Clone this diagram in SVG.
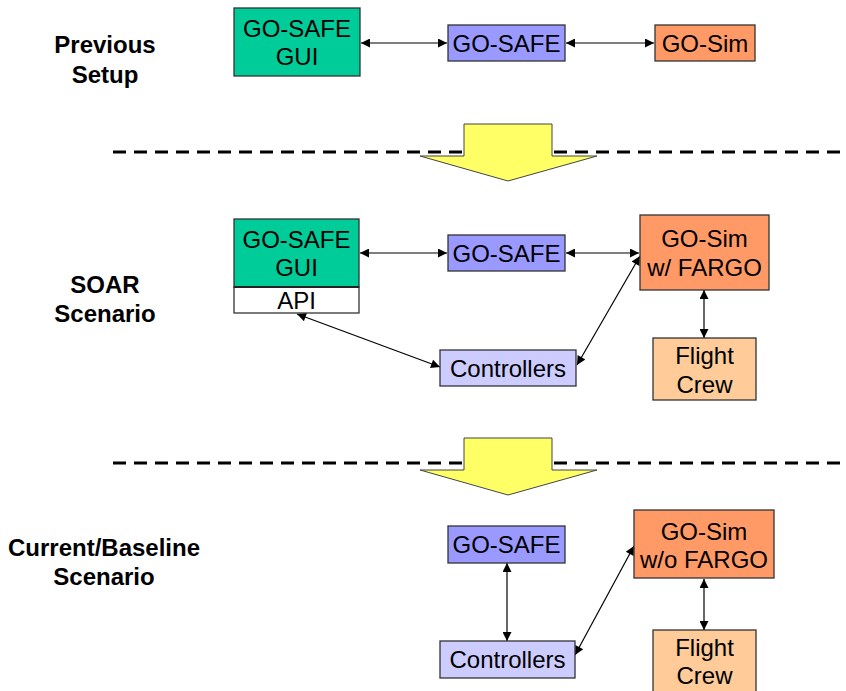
<svg xmlns="http://www.w3.org/2000/svg" width="846" height="691" viewBox="0 0 846 691">
<defs>
<marker id="ah" viewBox="0 0 10 10" refX="10" refY="5" markerWidth="11" markerHeight="9" markerUnits="userSpaceOnUse" orient="auto-start-reverse">
<path d="M0,0 L10,5 L0,10 Z" fill="#000"/>
</marker>
<style>
.box{stroke:#333;stroke-width:1.3}
.t{font-family:"Liberation Sans",Arial,sans-serif;font-size:24px;fill:#000;text-anchor:middle}
.lb{font-family:"Liberation Sans",Arial,sans-serif;font-size:24px;font-weight:bold;fill:#000;text-anchor:middle}
.c{stroke:#000;stroke-width:1.2;fill:none;marker-start:url(#ah);marker-end:url(#ah)}
.dash{stroke:#000;stroke-width:3.2;stroke-dasharray:13 8;fill:none}
.yarrow{fill:#FFFF66;stroke:#444;stroke-width:1}
</style>
</defs>
<rect width="846" height="691" fill="#fff"/>

<g id="labels">
<text class="lb" x="105" y="53">Previous</text>
<text class="lb" x="105" y="83">Setup</text>
<text class="lb" x="105" y="293">SOAR</text>
<text class="lb" x="105" y="322">Scenario</text>
<text class="lb" x="104" y="556">Current/Baseline</text>
<text class="lb" x="104" y="585">Scenario</text>
</g>

<g id="separators">
<line class="dash" x1="113" y1="152" x2="846" y2="152"/>
<line class="dash" x1="113" y1="463" x2="846" y2="463"/>
<polygon class="yarrow" points="464,124 552,124 552,156 597,156 508,181 420,156 464,156"/>
<polygon class="yarrow" points="464,438 552,438 552,470 597,470 508,495 420,470 464,470"/>
</g>

<g id="connectors">
<line class="c" x1="361" y1="43" x2="447" y2="43"/>
<line class="c" x1="566" y1="43" x2="654" y2="43"/>
<line class="c" x1="360" y1="253" x2="447" y2="253"/>
<line class="c" x1="566" y1="253" x2="639" y2="253"/>
<line class="c" x1="577" y1="365" x2="640" y2="256"/>
<line class="c" x1="297" y1="314" x2="440" y2="367"/>
<line class="c" x1="704" y1="290" x2="704" y2="338"/>
<line class="c" x1="507" y1="563" x2="507" y2="641"/>
<line class="c" x1="575" y1="655" x2="634" y2="546"/>
<line class="c" x1="704" y1="579" x2="704" y2="630"/>
</g>

<g id="prev-gui">
<rect class="box" x="234" y="8" width="126" height="68" fill="#00CC99"/>
<text class="t" x="297" y="37">GO-SAFE</text>
<text class="t" x="297" y="65">GUI</text>
</g>
<g id="prev-gosafe">
<rect class="box" x="448" y="25" width="117" height="36" fill="#9999FF"/>
<text class="t" x="506.5" y="52">GO-SAFE</text>
</g>
<g id="prev-gosim">
<rect class="box" x="655" y="25" width="100" height="36" fill="#FF9966"/>
<text class="t" x="705" y="52">GO-Sim</text>
</g>

<g id="soar-gui">
<rect class="box" x="234" y="219" width="125" height="68" fill="#00CC99"/>
<rect class="box" x="234" y="287" width="125" height="26" fill="#fff"/>
<line x1="234" y1="287" x2="359" y2="287" stroke="#222" stroke-width="2"/>
<text class="t" x="296.5" y="248">GO-SAFE</text>
<text class="t" x="296.5" y="276">GUI</text>
<text class="t" x="296.5" y="309">API</text>
</g>
<g id="soar-gosafe">
<rect class="box" x="448" y="235" width="117" height="36" fill="#9999FF"/>
<text class="t" x="506.5" y="262">GO-SAFE</text>
</g>
<g id="soar-gosim">
<rect class="box" x="640" y="215" width="129" height="75" fill="#FF9966"/>
<text class="t" x="704.5" y="247">GO-Sim</text>
<text class="t" x="704.5" y="276">w/ FARGO</text>
</g>
<g id="soar-crew">
<rect class="box" x="653" y="338" width="103" height="62" fill="#FFCC99"/>
<text class="t" x="704.5" y="364">Flight</text>
<text class="t" x="704.5" y="393">Crew</text>
</g>
<g id="soar-controllers">
<rect class="box" x="440" y="350" width="136" height="36" fill="#CCCCFF"/>
<text class="t" x="508" y="377">Controllers</text>
</g>

<g id="base-gosafe">
<rect class="box" x="448" y="526" width="117" height="37" fill="#9999FF"/>
<text class="t" x="506.5" y="553">GO-SAFE</text>
</g>
<g id="base-gosim">
<rect class="box" x="634" y="510" width="140" height="68" fill="#FF9966"/>
<text class="t" x="704" y="540">GO-Sim</text>
<text class="t" x="704" y="568">w/o FARGO</text>
</g>
<g id="base-crew">
<rect class="box" x="653" y="630" width="103" height="64" fill="#FFCC99"/>
<text class="t" x="704.5" y="656">Flight</text>
<text class="t" x="704.5" y="684">Crew</text>
</g>
<g id="base-controllers">
<rect class="box" x="440" y="641" width="135" height="37" fill="#CCCCFF"/>
<text class="t" x="507.5" y="668">Controllers</text>
</g>
</svg>
